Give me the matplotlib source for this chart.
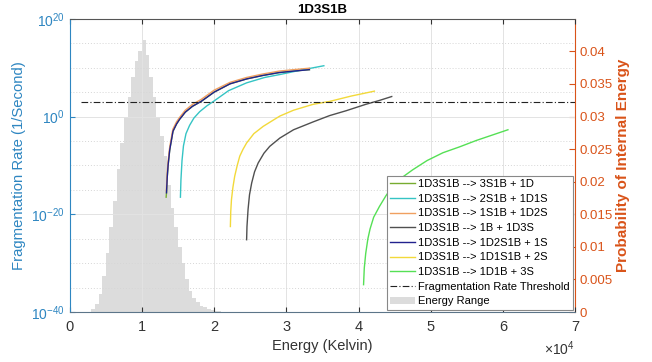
import numpy as np
import matplotlib
matplotlib.use("Agg")
import matplotlib.pyplot as plt
from matplotlib.ticker import FixedLocator, NullFormatter
from matplotlib.patches import Patch

plt.rcParams["font.family"] = ["Liberation Sans", "DejaVu Sans"]
plt.rcParams["mathtext.default"] = "regular"

LEFT_COLOR = "#2E86C1"
RIGHT_COLOR = "#D95319"

# energy histogram (probability of internal energy), bin edges in K
HIST_EDGES = np.arange(3000, 21001, 500)
HIST_PROB = [0.0005, 0.0012, 0.0028, 0.0055, 0.009, 0.013, 0.017, 0.022, 0.026, 0.030,
             0.033, 0.036, 0.0385, 0.040, 0.0418, 0.0395, 0.036, 0.033, 0.030, 0.027,
             0.024, 0.0195, 0.016, 0.013, 0.010, 0.0075, 0.005, 0.0033, 0.0022, 0.0015,
             0.001, 0.0007, 0.0005, 0.0003, 0.0002, 0.0001]

# fragmentation rate curves: energy (K) and log10(rate)
E_3S1B = [13350, 13400, 13500, 13620, 13850, 14300, 14800, 15200, 16000, 17000, 18200,
          20000, 22200, 24500, 26700, 29000, 31000, 33200]
LOG_3S1B = [-16.5, -15.6, -12.5, -10.0, -6.8, -3.0, -1.5, -0.6, 0.9, 2.1, 3.1,
            5.0, 6.7, 7.7, 8.4, 9.0, 9.3, 9.6]

E_2S1B = [15330, 15400, 15550, 15750, 16100, 16600, 17200, 18000, 19000, 20000, 22000,
          24500, 27000, 29100, 32000, 35200]
LOG_2S1B = [-16.5, -13.0, -9.0, -6.0, -3.5, -1.8, -0.3, 1.0, 2.2, 3.2, 5.3,
            6.9, 8.0, 8.6, 9.5, 10.4]

E_1S1B = [13380, 13480, 13600, 13830, 14280, 14780, 15200, 16000, 17000, 18200,
          20000, 22200, 24500, 26700, 29000, 31000, 33200]
LOG_1S1B = [-15.2, -12.0, -9.5, -6.4, -2.6, -1.1, -0.2, 1.3, 2.5, 3.5,
            5.4, 7.0, 8.0, 8.7, 9.3, 9.6, 9.9]

E_1B = [24500, 24550, 24700, 24900, 25200, 25600, 26100, 26900, 27700, 29100, 31000,
        33700, 36000, 38300, 41000, 42900, 44600]
LOG_1B = [-25.2, -22.5, -19.0, -16.0, -13.6, -11.3, -9.5, -7.5, -6.1, -4.4, -2.7,
          -1.1, 0.2, 1.2, 2.5, 3.3, 4.1]

E_1D2S1B = [13400, 13500, 13620, 13850, 14300, 14800, 15200, 16000, 17000, 18200,
            20000, 22200, 24500, 26700, 29000, 31000, 33200]
LOG_1D2S1B = [-15.6, -12.5, -10.0, -6.8, -3.0, -1.5, -0.6, 0.9, 2.1, 3.1,
              5.0, 6.7, 7.7, 8.4, 9.0, 9.3, 9.6]

E_1D1S1B = [22250, 22300, 22400, 22600, 22850, 23200, 23550, 24000, 24500, 25500, 26800,
            28000, 29100, 31000, 33700, 36000, 39000, 42200]
LOG_1D1S1B = [-22.5, -19.5, -17.0, -14.5, -12.2, -10.0, -8.1, -6.7, -5.4, -3.5, -2.0,
              -0.9, 0.1, 1.3, 2.5, 3.1, 4.2, 5.2]

E_1D1B = [40700, 40800, 41000, 41300, 41600, 42100, 42900, 43800, 44700, 46000, 47500,
          49500, 51700, 54000, 56300, 58500, 60700]
LOG_1D1B = [-34.4, -31.0, -28.0, -25.0, -23.0, -20.6, -18.4, -16.2, -14.3, -12.5, -10.9,
            -9.0, -7.4, -6.2, -4.9, -3.8, -2.7]

SERIES = [
    ("1D3S1B --> 3S1B + 1D", E_3S1B, LOG_3S1B, "#77AC30"),
    ("1D3S1B --> 2S1B + 1D1S", E_2S1B, LOG_2S1B, "#35C4C4"),
    ("1D3S1B --> 1S1B + 1D2S", E_1S1B, LOG_1S1B, "#F0A060"),
    ("1D3S1B --> 1B + 1D3S", E_1B, LOG_1B, "#505050"),
    ("1D3S1B --> 1D2S1B + 1S", E_1D2S1B, LOG_1D2S1B, "#22228E"),
    ("1D3S1B --> 1D1S1B + 2S", E_1D1S1B, LOG_1D1S1B, "#F2D93A"),
    ("1D3S1B --> 1D1B + 3S", E_1D1B, LOG_1D1B, "#55E055"),
]

THRESHOLD = 1e3
THRESHOLD_RANGE = [1500, 70000]
HIST_COLOR = "#DCDCDC"

fig = plt.figure(figsize=(6.52, 3.62), dpi=100)
ax = fig.add_axes([0.107, 0.138, 0.775, 0.81])
ax2 = ax.twinx()
ax.set_zorder(ax2.get_zorder() + 1)
ax.patch.set_visible(False)

# histogram on right axis (drawn underneath the curves)
ax2.stairs(HIST_PROB, HIST_EDGES, fill=True, color=HIST_COLOR, lw=0)
ax2.set_ylim(0, 0.045)
ax2.set_yticks(np.arange(0, 0.0401, 0.005))
ax2.set_yticklabels(["0", "0.005", "0.01", "0.015", "0.02", "0.025", "0.03", "0.035", "0.04"])
ax2.tick_params(axis="y", colors=RIGHT_COLOR, direction="in", labelsize=9.5, length=4)
ax2.set_ylabel("Probability of Internal Energy", color=RIGHT_COLOR, fontsize=11,
               fontweight="bold", labelpad=2)
for s in ["left", "top", "bottom"]:
    ax2.spines[s].set_visible(False)
ax2.spines["right"].set_color(RIGHT_COLOR)

handles = []
for label, e, lg, col in SERIES:
    h, = ax.plot(e, 10.0 ** np.array(lg), color=col, lw=1.0, label=label)
    handles.append(h)

h_thr, = ax.plot(THRESHOLD_RANGE, [THRESHOLD, THRESHOLD], color="#222222", lw=0.8,
                 ls=(0, (6, 2, 1, 2)), label="Fragmentation Rate Threshold")
handles.append(h_thr)
handles.append(Patch(facecolor=HIST_COLOR, edgecolor="none", label="Energy Range"))

ax.set_yscale("log")
ax.set_ylim(1e-40, 1e20)
ax.yaxis.set_major_locator(FixedLocator([1e-40, 1e-20, 1e0, 1e20]))
ax.yaxis.set_minor_locator(FixedLocator([10.0 ** k for k in range(-35, 20, 5) if k % 20 != 0]))
ax.yaxis.set_minor_formatter(NullFormatter())
ax.set_xlim(0, 70000)
ax.set_xticks(np.arange(0, 70001, 10000))
ax.set_xticklabels([str(i) for i in range(8)])

ax.grid(True, which="major", color="#E3E3E3", lw=0.7, ls="-")
ax.grid(True, which="minor", axis="y", color="#D6D6D6", lw=0.7, ls=(0, (1, 2)))

ax.tick_params(axis="y", which="both", colors=LEFT_COLOR, direction="in", labelsize=10)
ax.tick_params(axis="y", which="minor", length=0)
ax.tick_params(axis="x", direction="in", top=True, labelsize=10.5, colors="#333333", pad=6)
ax.spines["left"].set_color(LEFT_COLOR)
ax.spines["right"].set_visible(False)
ax.spines["top"].set_color("#555555")
ax.spines["bottom"].set_color("#5C7589")

ax.set_ylabel("Fragmentation Rate (1/Second)", color=LEFT_COLOR, fontsize=10.7, labelpad=4)
ax.set_xlabel("Energy (Kelvin)", fontsize=10.5, color="#333333", labelpad=3)
ax.set_title("1D3S1B", fontsize=9.5, fontweight="bold", pad=4)
ax.text(1.0, -0.125, r"$\times10^{4}$", transform=ax.transAxes, ha="right", va="center",
        fontsize=10, color="#333333")

leg = ax.legend(handles=handles, loc="lower right", fontsize=8, frameon=True, fancybox=False,
                framealpha=1, edgecolor="#888888", handlelength=2.2, handletextpad=0.3,
                labelspacing=0.42, borderpad=0.3, borderaxespad=0.2)
leg.get_frame().set_linewidth(0.8)

fig.savefig("out.png", dpi=100)
